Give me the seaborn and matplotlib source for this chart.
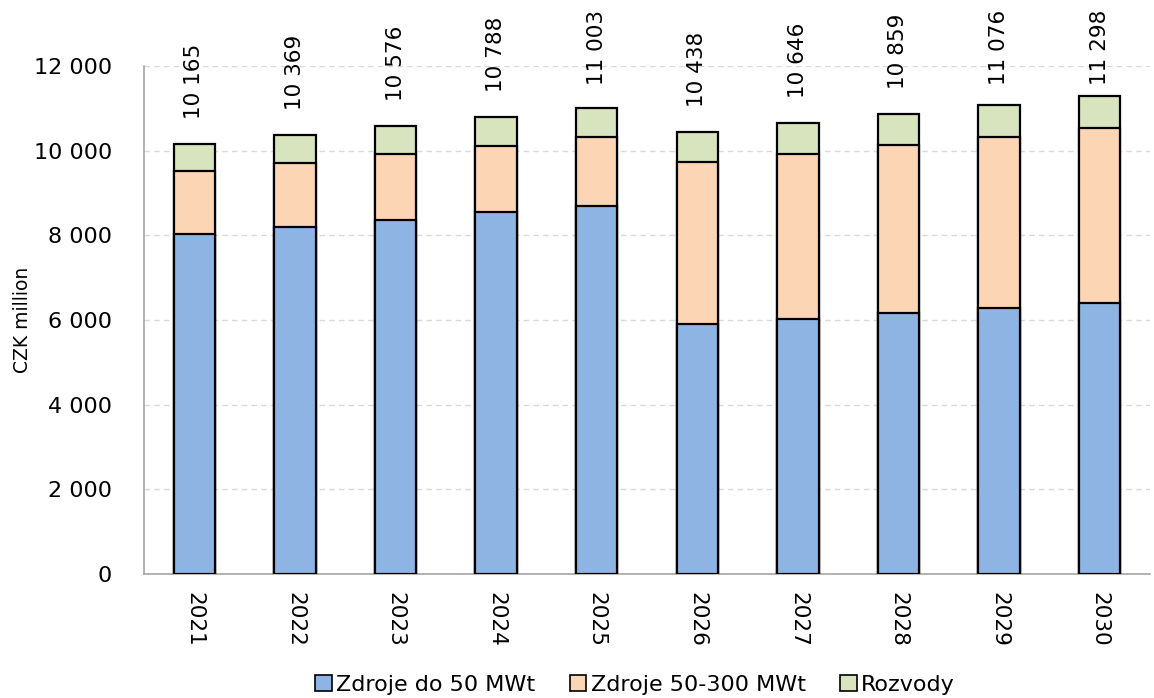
import numpy as np
import pandas as pd
import matplotlib
matplotlib.use("Agg")
import matplotlib.pyplot as plt
from matplotlib.patches import Patch
from matplotlib.ticker import FuncFormatter, FixedLocator
import seaborn as sns

# data (CZK million)
years = ["2021", "2022", "2023", "2024", "2025", "2026", "2027", "2028", "2029", "2030"]
small_sources = [8040, 8206, 8372, 8547, 8704, 5908, 6035, 6161, 6287, 6405]
mid_sources = [1486, 1502, 1541, 1564, 1620, 3815, 3894, 3965, 4045, 4133]
distribution = [639, 661, 663, 677, 679, 715, 717, 733, 744, 760]
totals = [10165, 10369, 10576, 10788, 11003, 10438, 10646, 10859, 11076, 11298]

series_names = ["Zdroje do 50 MWt", "Zdroje 50-300 MWt", "Rozvody"]
colors = ["#8EB4E3", "#FCD5B5", "#D7E4BD"]

df = pd.DataFrame({
    "year": years,
    "small": small_sources,
    "mid": mid_sources,
    "dist": distribution,
})
df["lvl1"] = df["small"]
df["lvl2"] = df["small"] + df["mid"]
df["lvl3"] = df["lvl2"] + df["dist"]

sns.set_style("white")
plt.rcParams["font.family"] = ["DejaVu Sans"]
plt.rcParams["text.color"] = "black"
plt.rcParams["axes.labelcolor"] = "black"
plt.rcParams["xtick.color"] = "black"
plt.rcParams["ytick.color"] = "black"

DPI = 100
fig = plt.figure(figsize=(11.54, 6.98), dpi=DPI)
ax = fig.add_axes([0.1248, 0.1777, 0.8717, 0.7277])

# stacked bars: draw cumulative heights tallest first
for col, color in zip(["lvl3", "lvl2", "lvl1"], colors[::-1]):
    sns.barplot(data=df, x="year", y=col, color=color, width=0.41,
                edgecolor="black", linewidth=1.6, saturation=1, ax=ax, zorder=3)

ax.set_ylim(0, 12000)
ax.set_xlim(-0.5, len(years) - 0.5)
ax.yaxis.set_major_locator(FixedLocator(np.arange(0, 12001, 2000)))
ax.yaxis.set_major_formatter(FuncFormatter(lambda v, p: f"{int(v):,}".replace(",", " ")))
ax.grid(axis="y", color="#D9D9D9", linestyle=(0, (4, 3)), linewidth=1.0, zorder=0)
ax.set_axisbelow(True)

for s in ["top", "right"]:
    ax.spines[s].set_visible(False)
for s in ["left", "bottom"]:
    ax.spines[s].set_color("#A6A6A6")
    ax.spines[s].set_linewidth(1.2)

ax.tick_params(axis="y", length=0, labelsize=16, labelcolor="black", pad=23)
ax.set_xticks(range(len(years)))
ax.set_xticklabels(years, rotation=270, fontsize=15.5, color="black")
ax.tick_params(axis="x", which="major", length=0, pad=13)
ax.set_xticks(np.arange(-0.5, len(years), 1.0), minor=True)
ax.tick_params(axis="x", which="minor", length=7, color="#A6A6A6", width=1.2)

ax.set_xlabel("")
ax.set_ylabel("CZK million", fontsize=13.5, color="black")
ax.yaxis.set_label_coords(-0.111, 0.5)

# total labels above the bars
LABEL_OFFSET = 18
labels = []
for i, t in enumerate(totals):
    txt = ax.annotate(f"{t:,}".replace(",", " "), xy=(i, t), xytext=(0, LABEL_OFFSET),
                      textcoords="offset points", rotation=90, ha="center", va="bottom",
                      fontsize=15.5, color="black", annotation_clip=False)
    labels.append(txt)

handles = [Patch(facecolor=c, edgecolor="black", linewidth=1.2) for c in colors]
fig.legend(handles, series_names, loc="lower center", bbox_to_anchor=(0.5503, -0.024),
           ncol=3, frameon=False, fontsize=16, handlelength=0.75, handleheight=0.75,
           handletextpad=0.2, columnspacing=1.55)

# keep labels inside the figure (like the chart area clamp in the original)
fig.canvas.draw()
renderer = fig.canvas.get_renderer()
top_limit = fig.bbox.height - 10
for txt in labels:
    bb = txt.get_window_extent(renderer)
    if bb.y1 > top_limit:
        shift_pt = (bb.y1 - top_limit) * 72 / DPI
        txt.xyann = (0, LABEL_OFFSET - shift_pt)

fig.savefig("out.png", dpi=DPI)
